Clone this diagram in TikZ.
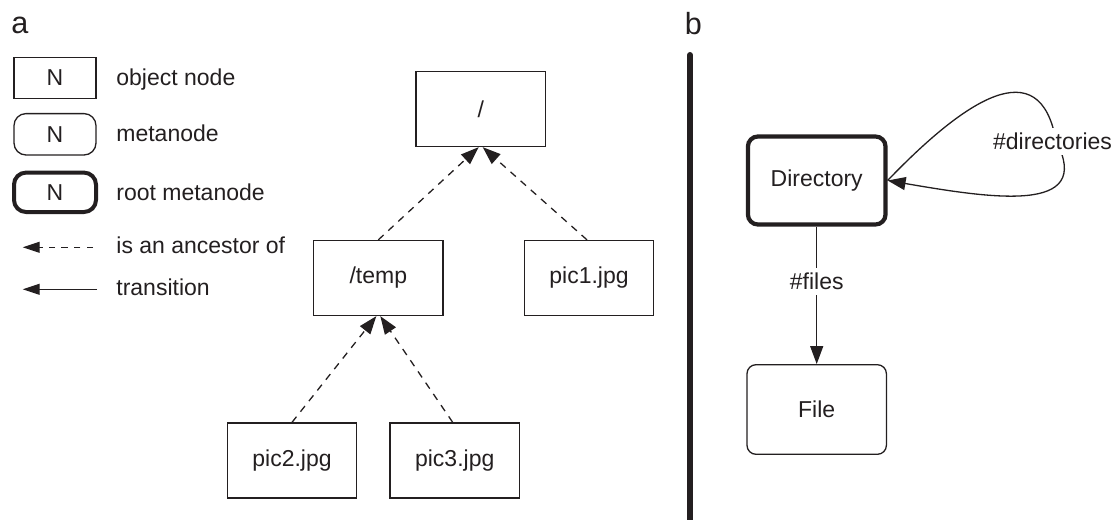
\documentclass[tikz,border=0pt]{standalone}
\usepackage{fontspec}
\setmainfont{Liberation Sans}
\usetikzlibrary{arrows.meta}
\definecolor{ink}{RGB}{35,31,32}
\tikzset{
  obj/.style={draw=ink, line width=0.65pt, inner sep=0pt, minimum width=64.8pt, minimum height=37.5pt},
  leg/.style={draw=ink, line width=0.65pt, inner sep=0pt, minimum width=41pt, minimum height=20.7pt},
  meta/.style={draw=ink, line width=0.65pt, inner sep=0pt, rounded corners=4.5pt, minimum width=69.7pt, minimum height=44.8pt},
  txt/.style={anchor=base west, inner sep=0pt},
  panel/.style={anchor=base west, inner sep=0pt, font=\fontsize{15.3}{18}\selectfont},
  lab/.style={fill=white, inner sep=2.5pt},
  anc/.style={ink, line width=0.65pt, dash pattern=on 3.6pt off 3.2pt, -{Triangle[length=9pt,width=6.5pt]}},
  trans/.style={ink, line width=0.65pt, -{Triangle[length=9pt,width=6.5pt]}},
  small/.style={dash pattern=on 3.2pt off 3.1pt, -{Triangle[length=8.5pt,width=5.5pt]}}
}
\begin{document}
\begin{tikzpicture}[x=0.5pt, y=-0.5pt, text=ink, font=\fontsize{11.5}{14}\selectfont]
\useasboundingbox (0,0) rectangle (1117,519);
\node[panel] (pa) at (11,34) {a};
\node[panel] (pb) at (684.5,35) {b};
\draw[ink, line width=3pt, line cap=round] (690,55) -- (690,540);

\node[leg] (lobj) at (55,78) {N};
\node[leg, rounded corners=6pt] (lmeta) at (55,134.3) {N};
\node[leg, rounded corners=6pt, line width=2pt, minimum height=19.7pt] (lroot) at (55,192.3) {N};
\node[txt] (tobj) at (116,86) {object node};
\node[txt] (tmeta) at (116,141.7) {metanode};
\node[txt] (troot) at (116,200) {root metanode};
\node[txt] (tanc) at (116,253.7) {is an ancestor of};
\node[txt] (ttrans) at (116,295) {transition};
\coordinate (ancR) at (93,247.3);
\coordinate (ancL) at (22.7,247.3);
\coordinate (transR) at (97,289.3);
\coordinate (transL) at (22.7,289.3);
\path (ancR) edge[anc, small] (ancL)
      (transR) edge[trans, small, solid] (transL);

\node[obj] (root) at (480.7,109) {/};
\node[obj] (temp) at (378.3,278) {/temp};
\node[obj] (pic1) at (589,278) {pic1.jpg};
\node[obj] (pic2) at (292,460.5) {pic2.jpg};
\node[obj] (pic3) at (454.7,460.5) {pic3.jpg};
\path[anc]
  (temp.north) edge ([xshift=-1pt]root.south)
  ([xshift=-1pt]pic1.north) edge ([xshift=1pt]root.south)
  (pic2.north) edge ([xshift=-1pt]temp.south)
  ([xshift=-1pt]pic3.north) edge ([xshift=1pt]temp.south);

\node[meta, line width=2.1pt, minimum width=68.8pt, minimum height=44pt, rounded corners=5pt] (dir) at (816.7,180.5) {Directory};
\node[meta] (file) at (816.7,409.5) {File};
\path[trans] (dir) edge node[lab, pos=0.4] (lfiles) {\#files} (file);
\coordinate (turn) at (1056,141);
\draw[trans] (dir.east) .. controls (965,100) and (1040,50) .. (turn)
  .. controls (1095,215) and (990,198) .. (dir.east);
\node[lab] (ldirs) at (1052.5,141.7) {\#directories};
\end{tikzpicture}
\end{document}
